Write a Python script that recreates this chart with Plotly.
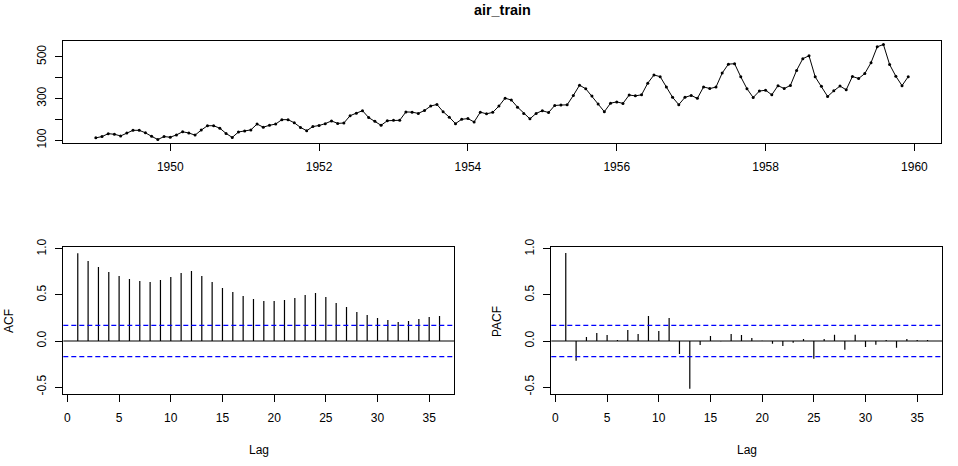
import plotly.graph_objects as go

# ---- data ----
years = list(range(1949, 1960))
passengers = [
    112, 118, 132, 129, 121, 135, 148, 148, 136, 119, 104, 118,
    115, 126, 141, 135, 125, 149, 170, 170, 158, 133, 114, 140,
    145, 150, 178, 163, 172, 178, 199, 199, 184, 162, 146, 166,
    171, 180, 193, 181, 183, 218, 230, 242, 209, 191, 172, 194,
    196, 196, 236, 235, 229, 243, 264, 272, 237, 211, 180, 201,
    204, 188, 235, 227, 234, 264, 302, 293, 259, 229, 203, 229,
    242, 233, 267, 269, 270, 315, 364, 347, 312, 274, 237, 278,
    284, 277, 317, 313, 318, 374, 413, 405, 355, 306, 271, 306,
    315, 301, 356, 348, 355, 422, 465, 467, 404, 347, 305, 336,
    340, 318, 362, 348, 363, 435, 491, 505, 404, 359, 310, 337,
    360, 342, 406, 396, 420, 472, 548, 559, 463, 407, 362, 405,
]
time = [y + m / 12 for y in years for m in range(12)]

lags = list(range(1, 37))
acf_vals = [0.953, 0.870, 0.804, 0.750, 0.707, 0.674, 0.652, 0.641, 0.663,
            0.696, 0.739, 0.761, 0.707, 0.641, 0.576, 0.533, 0.489, 0.457,
            0.435, 0.435, 0.446, 0.467, 0.500, 0.522, 0.478, 0.413, 0.370,
            0.315, 0.283, 0.250, 0.228, 0.207, 0.217, 0.239, 0.261, 0.272]
pacf_vals = [0.955, -0.214, 0.043, 0.087, 0.065, 0.011, 0.120, 0.076, 0.272,
             0.109, 0.250, -0.141, -0.520, -0.043, 0.054, -0.004, 0.076, 0.065,
             0.033, 0.003, -0.030, -0.054, -0.020, 0.022, -0.194, 0.022, 0.067,
             -0.096, 0.067, -0.065, -0.042, 0.011, -0.074, 0.022, 0.011, 0.011]
ci = 0.1706

ts_yticks = [100, 200, 300, 400, 500]
ts_ytext = ["100", "", "300", "", "500"]
ts_xticks = [1950, 1952, 1954, 1956, 1958, 1960]
cf_yticks = [-0.5, 0.0, 0.5, 1.0]
cf_ytext = ["-0.5", "0.0", "0.5", "1.0"]
lag_ticks = [0, 5, 10, 15, 20, 25, 30, 35]

W, H = 958, 466
FONT = "Liberation Sans, Arial, sans-serif"


def stems(xv, yv):
    xs, ys = [], []
    for a, b in zip(xv, yv):
        xs += [a, a, None]
        ys += [0, b, None]
    return xs, ys


fig = go.Figure()
fig.add_trace(go.Scatter(x=time, y=passengers, mode="lines+markers",
                         line=dict(color="black", width=1),
                         marker=dict(color="black", size=3),
                         xaxis="x", yaxis="y", showlegend=False))
ax, ay = stems(lags, acf_vals)
fig.add_trace(go.Scatter(x=ax, y=ay, mode="lines", line=dict(color="black", width=1.2),
                         xaxis="x2", yaxis="y2", showlegend=False))
px_, py_ = stems(lags, pacf_vals)
fig.add_trace(go.Scatter(x=px_, y=py_, mode="lines", line=dict(color="black", width=1.2),
                         xaxis="x3", yaxis="y3", showlegend=False))

shapes = []
for xr, yr in (("x2", "y2"), ("x3", "y3")):
    shapes.append(dict(type="line", xref=xr + " domain", yref=yr, x0=0, x1=1, y0=0, y1=0,
                       line=dict(color="black", width=1)))
    for s in (ci, -ci):
        shapes.append(dict(type="line", xref=xr + " domain", yref=yr, x0=0, x1=1, y0=s, y1=s,
                           line=dict(color="#0000ff", width=1.2, dash="5px,3px")))

common = dict(showline=True, mirror=True, linecolor="black", linewidth=1,
              showgrid=False, zeroline=False, ticks="outside", ticklen=7,
              tickcolor="black", automargin=False,
              tickfont=dict(family=FONT, size=12, color="black"))

fig.update_layout(
    width=W, height=H, margin=dict(l=0, r=0, t=0, b=0, autoexpand=False),
    paper_bgcolor="white", plot_bgcolor="white",
    shapes=shapes,
    xaxis=dict(domain=[63.3 / W, 940.7 / W], range=[1948.563, 1960.353],
               tickvals=ts_xticks, anchor="y", ticklabelstandoff=5, **common),
    yaxis=dict(domain=[1 - 143.3 / H, 1 - 40.7 / H], range=[85.8, 577.2],
               tickvals=ts_yticks, ticktext=ts_ytext, tickangle=-90, anchor="x",
               ticklabelstandoff=5, **common),
    xaxis2=dict(domain=[63.3 / W, 454 / W], range=[-0.4, 37.4], tickvals=lag_ticks,
                anchor="y2", ticklabelstandoff=5, **common),
    yaxis2=dict(domain=[1 - 394.3 / H, 1 - 247.3 / H], range=[-0.579, 1.018],
                tickvals=cf_yticks, ticktext=cf_ytext, tickangle=-90, anchor="x2",
                ticklabelstandoff=5, **common),
    xaxis3=dict(domain=[551.3 / W, 942 / W], range=[-0.4, 37.4], tickvals=lag_ticks,
                anchor="y3", ticklabelstandoff=5, **common),
    yaxis3=dict(domain=[1 - 394.3 / H, 1 - 247.3 / H], range=[-0.579, 1.018],
                tickvals=cf_yticks, ticktext=cf_ytext, tickangle=-90, anchor="x3",
                ticklabelstandoff=5, **common),
    annotations=[
        dict(text="<b>air_train</b>", x=502 / W, y=1 - 10.5 / H, xref="paper", yref="paper",
             showarrow=False, xanchor="center", yanchor="middle",
             font=dict(family=FONT, size=14.4, color="black")),
        dict(text="Lag", x=(63.3 + 454) / 2 / W, y=1 - 450 / H, xref="paper", yref="paper",
             showarrow=False, xanchor="center", yanchor="middle",
             font=dict(family=FONT, size=12, color="black")),
        dict(text="Lag", x=(551.3 + 942) / 2 / W, y=1 - 450 / H, xref="paper", yref="paper",
             showarrow=False, xanchor="center", yanchor="middle",
             font=dict(family=FONT, size=12, color="black")),
        dict(text="ACF", x=9 / W, y=1 - 321 / H, xref="paper", yref="paper",
             showarrow=False, xanchor="center", yanchor="middle", textangle=-90,
             font=dict(family=FONT, size=12, color="black")),
        dict(text="PACF", x=497 / W, y=1 - 321 / H, xref="paper", yref="paper",
             showarrow=False, xanchor="center", yanchor="middle", textangle=-90,
             font=dict(family=FONT, size=12, color="black")),
    ],
)

fig.write_html("out.html", config={"displayModeBar": False},
               post_script="document.body.style.margin='0';document.body.style.padding='0';")
